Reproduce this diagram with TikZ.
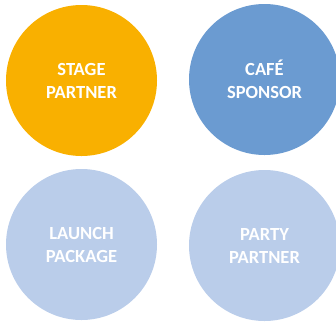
\documentclass[tikz,border=0pt]{standalone}
\usepackage{fontspec}
\setmainfont{Carlito}
\definecolor{cgold}{RGB}{249,176,0}
\definecolor{cblue}{RGB}{107,155,209}
\definecolor{clight}{RGB}{186,205,234}
\begin{document}
\begin{tikzpicture}[x=1pt,y=-1pt,
  disc/.style={circle,inner sep=0pt,minimum size=151pt,text=white,align=center,
    font=\fontsize{18.5}{23}\selectfont\bfseries}]
\useasboundingbox (0,0) rectangle (336,322);
\node[disc,fill=cgold] (stage) at (81.5,80.5) {STAGE\\PARTNER};
\node[disc,fill=cblue] (cafe) at (264.5,79.5) {CAFÉ\\SPONSOR};
\node[disc,fill=clight] (launch) at (81.5,244.5) {LAUNCH\\PACKAGE};
\node[disc,fill=clight] (party) at (264.5,245.5) {PARTY\\PARTNER};
\end{tikzpicture}
\end{document}
